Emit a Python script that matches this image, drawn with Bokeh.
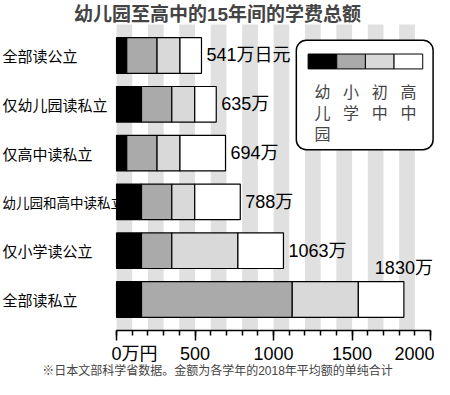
from bokeh.plotting import figure
from bokeh.models import (ColumnDataSource, FactorRange, Range1d, FixedTicker,
                          BoxAnnotation, Label, Title)
from bokeh.core.properties import value
from bokeh.embed import file_html
from bokeh.resources import INLINE

# ---------------- data ----------------
categories = ["全部读公立", "仅幼儿园读私立", "仅高中读私立",
              "幼儿园和高中读私立", "仅小学读公立", "全部读私立"]
stages = ["幼儿园", "小学", "初中", "高中"]
kindergarten = [65, 159, 65, 159, 159, 159]
elementary = [193, 193, 193, 193, 193, 960]
junior_high = [146, 146, 146, 146, 421, 421]
high_school = [137, 137, 290, 290, 290, 290]
totals = [541, 635, 694, 788, 1063, 1830]
total_labels = ["541万日元", "635万", "694万", "788万", "1063万", "1830万"]
x_ticks = [0, 500, 1000, 1500, 2000]
x_tick_labels = ["0万円", "500", "1000", "1500", "2000"]

title_text = "幼儿园至高中的15年间的学费总额"
note_text = "※日本文部科学省数据。金额为各学年的2018年平均额的单纯合计"

# ---------------- style ----------------
colors = ["#000000", "#aaaaaa", "#d9d9d9", "#ffffff"]
stripe_color = "#e0e0e0"
CJK = "Noto Sans CJK SC"
NUM = "'Liberation Sans', 'Noto Sans CJK SC'"
NUM_JP = "'Liberation Sans', 'Noto Sans CJK JP'"
BAR_H = 0.73
EM = "\u2003"

p = figure(width=434, height=379, output_backend="svg", toolbar_location=None,
           x_range=Range1d(-739, 2025),
           y_range=FactorRange(factors=list(reversed(categories)),
                               range_padding=0.135, range_padding_units="absolute"),
           y_axis_location=None,
           min_border_left=0, min_border_right=0,
           min_border_top=24, min_border_bottom=49)
p.title = Title(text=title_text, align="center", text_font=NUM,
                text_font_size="19px", text_font_style="bold",
                standoff=0, offset=0)
p.outline_line_color = None
p.xgrid.visible = False
p.ygrid.visible = False

# background stripes (every 200, 100 wide)
stripe_left = list(range(0, 2000, 200))
p.quad(left=stripe_left, right=[v + 100 for v in stripe_left],
       bottom=-1, top=8, fill_color=stripe_color, line_color=None)

# row labels
LABEL_X = -726
for cat in categories:
    size = "15px" if len(cat) <= 7 else "13.5px"
    p.text(x=[LABEL_X], y=[cat], text=[cat], text_align="left",
           text_baseline="middle", text_font=value(CJK),
           text_font_size=size, text_color="black")

# stacked bars
src = ColumnDataSource(dict(cat=categories, k=kindergarten, e=elementary,
                            j=junior_high, h=high_school,
                            total=totals, lab=total_labels))
p.hbar_stack(["k", "e", "j", "h"], y="cat", height=BAR_H, color=colors,
             line_color="black", line_width=1.2, source=src)

# value labels
p.text(x=totals[:-1], y=categories[:-1], text=total_labels[:-1],
       x_offset=5, text_align="left", text_baseline="middle",
       text_font=value(NUM), text_font_size="18px", text_color="black")
p.text(x=totals[-1:], y=categories[-1:], text=total_labels[-1:],
       y_offset=-22, text_align="center", text_baseline="bottom",
       text_font=value(NUM), text_font_size="18px", text_color="black")

# x axis
ax = p.xaxis[0]
ax.bounds = (0, 2000)
ax.ticker = FixedTicker(ticks=x_ticks, minor_ticks=list(range(0, 2001, 100)))
overrides = {t: lab for t, lab in zip(x_ticks, x_tick_labels)}
overrides[x_ticks[0]] = EM * 2 + x_tick_labels[0]   # keep the "0" on its tick
ax.major_label_overrides = overrides
ax.axis_line_width = 1.5
ax.axis_line_color = "black"
ax.major_tick_line_width = 1.5
ax.minor_tick_line_width = 1.5
ax.major_tick_out = 10
ax.major_tick_in = 0
ax.minor_tick_out = 5
ax.minor_tick_in = 0
ax.major_label_standoff = 3
ax.major_label_text_font = NUM_JP
ax.major_label_text_font_size = "18px"
ax.major_label_text_color = "black"

# footnote
p.add_layout(Title(text=note_text, align="center", text_font=NUM,
                   text_font_size="12px", text_font_style="normal",
                   standoff=-10, offset=0), "below")

# legend (custom)
LEG_L, LEG_R, LEG_T, LEG_B = 1145, 2016, 5.81, 3.57
p.add_layout(BoxAnnotation(left=LEG_L, right=LEG_R, top=LEG_T, bottom=LEG_B,
                           fill_color="white", fill_alpha=1.0,
                           line_color="black", line_alpha=1.0, line_width=1.5,
                           border_radius=10))
SW_L, SW_W, SW_T, SW_B = 1220, 182.5, 5.53, 5.225
for i, (stage, c) in enumerate(zip(stages, colors)):
    p.add_layout(BoxAnnotation(left=SW_L + i * SW_W, right=SW_L + (i + 1) * SW_W,
                               top=SW_T, bottom=SW_B, fill_color=c, fill_alpha=1.0,
                               line_color="black", line_alpha=1.0, line_width=1))
for i, stage in enumerate(stages):
    p.add_layout(Label(x=SW_L + (i + 0.5) * SW_W, y=5.01, text="\n".join(stage),
                       text_align="center", text_baseline="top",
                       text_font=CJK, text_font_size="16px",
                       text_line_height=0.86))

open("out.html", "w").write(file_html(p, INLINE))
